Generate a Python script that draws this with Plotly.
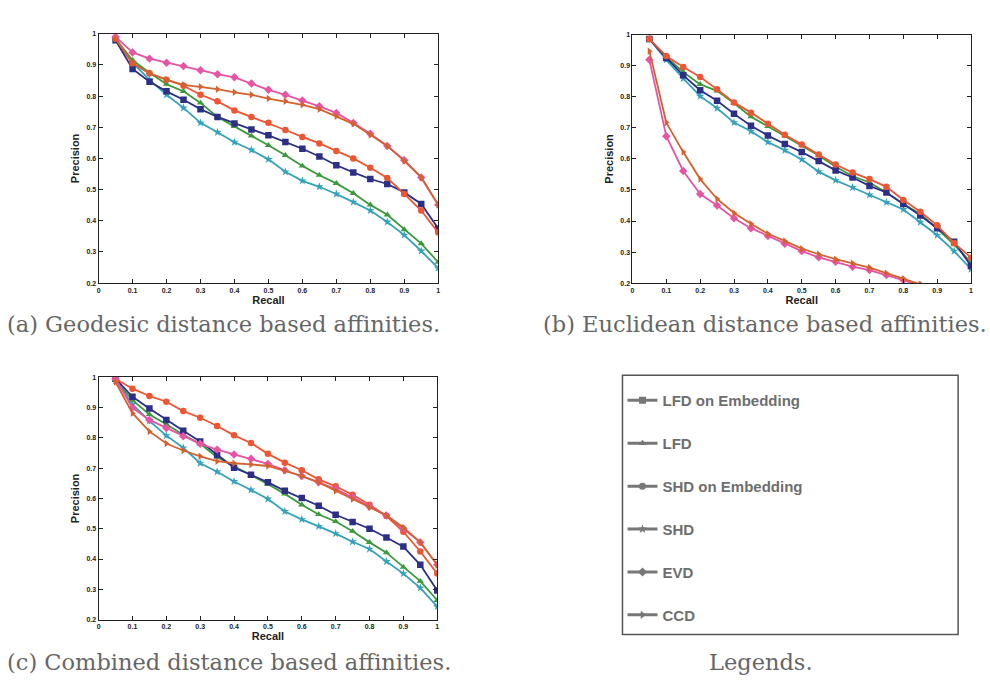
import plotly.graph_objects as go

W, H = 990, 688

recall = [0.05, 0.10, 0.15, 0.20, 0.25, 0.30, 0.35, 0.40, 0.45, 0.50,
          0.55, 0.60, 0.65, 0.70, 0.75, 0.80, 0.85, 0.90, 0.95, 1.00]

series_names = ["LFD on Embedding", "LFD", "SHD on Embedding", "SHD", "EVD", "CCD"]
series_colors = ["#2b2f86", "#3c9a3c", "#ee5533", "#35a2bb", "#e555a4", "#d4622e"]
series_symbols = ["square", "triangle-up", "circle", "star", "diamond", "triangle-right"]

# (a) Geodesic distance based affinities
geo_lfd_emb = [0.979, 0.887, 0.846, 0.815, 0.788, 0.758, 0.733, 0.712, 0.693, 0.674,
               0.653, 0.631, 0.606, 0.578, 0.555, 0.534, 0.518, 0.491, 0.454, 0.375]
geo_lfd = [0.984, 0.915, 0.875, 0.838, 0.815, 0.778, 0.733, 0.703, 0.672, 0.642,
           0.610, 0.576, 0.546, 0.520, 0.488, 0.451, 0.419, 0.372, 0.327, 0.267]
geo_shd_emb = [0.984, 0.905, 0.873, 0.852, 0.833, 0.804, 0.783, 0.754, 0.733, 0.714,
               0.691, 0.669, 0.648, 0.624, 0.600, 0.570, 0.537, 0.486, 0.433, 0.362]
geo_shd = [0.979, 0.907, 0.852, 0.804, 0.762, 0.714, 0.684, 0.652, 0.627, 0.597,
           0.557, 0.528, 0.509, 0.486, 0.460, 0.433, 0.396, 0.354, 0.303, 0.248]
geo_evd = [0.990, 0.940, 0.920, 0.907, 0.896, 0.883, 0.870, 0.860, 0.840, 0.820,
           0.804, 0.786, 0.767, 0.746, 0.714, 0.679, 0.640, 0.594, 0.539, 0.451]
geo_ccd = [0.984, 0.905, 0.873, 0.852, 0.836, 0.830, 0.822, 0.812, 0.804, 0.792,
           0.783, 0.772, 0.758, 0.735, 0.711, 0.676, 0.640, 0.592, 0.539, 0.451]

# (b) Euclidean distance based affinities
euc_lfd_emb = [0.986, 0.925, 0.869, 0.821, 0.787, 0.745, 0.707, 0.675, 0.648, 0.622,
               0.593, 0.563, 0.540, 0.513, 0.492, 0.455, 0.418, 0.377, 0.333, 0.255]
euc_lfd = [0.986, 0.928, 0.880, 0.840, 0.819, 0.779, 0.736, 0.705, 0.673, 0.643,
           0.611, 0.575, 0.545, 0.524, 0.492, 0.455, 0.423, 0.375, 0.324, 0.267]
euc_shd_emb = [0.986, 0.931, 0.896, 0.864, 0.824, 0.782, 0.749, 0.713, 0.678, 0.646,
               0.614, 0.582, 0.556, 0.535, 0.510, 0.468, 0.430, 0.386, 0.329, 0.282]
euc_shd = [0.986, 0.919, 0.859, 0.802, 0.763, 0.717, 0.689, 0.654, 0.628, 0.598,
           0.559, 0.531, 0.508, 0.484, 0.460, 0.437, 0.396, 0.354, 0.303, 0.245]
euc_evd = [0.919, 0.673, 0.561, 0.487, 0.450, 0.409, 0.377, 0.352, 0.327, 0.303,
           0.283, 0.269, 0.253, 0.242, 0.226, 0.210, 0.193]
euc_ccd = [0.947, 0.717, 0.622, 0.535, 0.471, 0.426, 0.391, 0.359, 0.336, 0.311,
           0.293, 0.277, 0.264, 0.250, 0.232, 0.214, 0.196]

# (c) Combined distance based affinities
com_lfd_emb = [0.995, 0.935, 0.897, 0.859, 0.823, 0.788, 0.743, 0.701, 0.678, 0.653,
               0.625, 0.601, 0.576, 0.546, 0.522, 0.500, 0.471, 0.441, 0.381, 0.296]
com_lfd = [0.989, 0.924, 0.877, 0.845, 0.810, 0.780, 0.736, 0.707, 0.678, 0.647,
           0.615, 0.579, 0.547, 0.524, 0.492, 0.455, 0.421, 0.373, 0.327, 0.264]
com_shd_emb = [0.995, 0.962, 0.938, 0.919, 0.888, 0.866, 0.839, 0.808, 0.783, 0.747,
               0.718, 0.693, 0.663, 0.640, 0.612, 0.579, 0.542, 0.490, 0.425, 0.352]
com_shd = [0.989, 0.910, 0.856, 0.807, 0.767, 0.716, 0.688, 0.656, 0.628, 0.598,
           0.557, 0.531, 0.508, 0.484, 0.457, 0.433, 0.392, 0.352, 0.305, 0.243]
com_evd = [0.995, 0.899, 0.859, 0.832, 0.805, 0.780, 0.761, 0.745, 0.731, 0.714,
           0.693, 0.674, 0.653, 0.631, 0.604, 0.573, 0.544, 0.500, 0.455, 0.381]
com_ccd = [0.984, 0.881, 0.821, 0.781, 0.758, 0.739, 0.723, 0.716, 0.712, 0.707,
           0.691, 0.674, 0.653, 0.625, 0.598, 0.571, 0.544, 0.504, 0.455, 0.381]

panels = [
    ("x", "y", [geo_lfd_emb, geo_lfd, geo_shd_emb, geo_shd, geo_evd, geo_ccd]),
    ("x2", "y2", [euc_lfd_emb, euc_lfd, euc_shd_emb, euc_shd, euc_evd, euc_ccd]),
    ("x3", "y3", [com_lfd_emb, com_lfd, com_shd_emb, com_shd, com_evd, com_ccd]),
]
# drawing order (back to front) roughly as in the scan
draw_order = [3, 1, 0, 2, 4, 5]

x_ticks = [0, 0.1, 0.2, 0.3, 0.4, 0.5, 0.6, 0.7, 0.8, 0.9, 1.0]
x_ticktext = ["0", "0.1", "0.2", "0.3", "0.4", "0.5", "0.6", "0.7", "0.8", "0.9", "1"]
y_ticks = [0.2, 0.3, 0.4, 0.5, 0.6, 0.7, 0.8, 0.9, 1.0]
y_ticktext = ["0.2", "0.3", "0.4", "0.5", "0.6", "0.7", "0.8", "0.9", "1"]

captions = ["(a) Geodesic distance based affinities.",
            "(b) Euclidean distance based affinities.",
            "(c) Combined distance based affinities.",
            "Legends."]

fig = go.Figure()

for xa, ya, data in panels:
    for i in draw_order:
        vals = data[i]
        fig.add_trace(go.Scatter(
            x=recall[:len(vals)], y=vals, xaxis=xa, yaxis=ya,
            mode="lines+markers",
            line=dict(color=series_colors[i], width=1.8),
            marker=dict(symbol=series_symbols[i], size=6.5, color=series_colors[i],
                        line=dict(width=0)),
            showlegend=False, name=series_names[i]))

# legend entries (grey, as printed)
for i, name in enumerate(series_names):
    fig.add_trace(go.Scatter(
        x=[None], y=[None], xaxis="x", yaxis="y", mode="lines+markers",
        name=name, legendgroup=name,
        line=dict(color="#777777", width=3),
        marker=dict(symbol=series_symbols[i], size=7, color="#777777"),
        showlegend=True))

def px_dom_x(a, b):
    return [a / W, b / W]

def px_dom_y(top, bottom):
    return [1 - bottom / H, 1 - top / H]

axis_common = dict(
    showline=True, linecolor="#222222", linewidth=1, mirror="ticks",
    ticks="inside", ticklen=4, tickcolor="#222222", showgrid=False, zeroline=False,
    tickfont=dict(family="Liberation Sans", size=7, color="#222222", weight="bold"),
)
title_font = dict(family="Liberation Sans", size=11, color="#222222", weight="bold")

domains = [
    (px_dom_x(97, 438), px_dom_y(30, 282)),
    (px_dom_x(633, 973), px_dom_y(31, 282)),
    (px_dom_x(97, 437), px_dom_y(377, 622)),
]

layout = dict(
    width=W, height=H, margin=dict(l=0, r=0, t=0, b=0),
    paper_bgcolor="white", plot_bgcolor="white",
    showlegend=True,
    legend=dict(x=623 / W, y=1 - 384 / H, xanchor="left", yanchor="top",
                bgcolor="rgba(0,0,0,0)", borderwidth=0,
                font=dict(family="Liberation Sans", size=15, color="#6e6e6e",
                          weight="bold"),
                tracegroupgap=20.4, itemwidth=30),
)
for k, (dx, dy) in enumerate(domains):
    sfx = "" if k == 0 else str(k + 1)
    layout["xaxis" + sfx] = dict(axis_common, domain=dx, range=[0, 1],
                                 tickvals=x_ticks, ticktext=x_ticktext,
                                 anchor="y" + sfx,
                                 title=dict(text="Recall", font=title_font, standoff=2))
    layout["yaxis" + sfx] = dict(axis_common, domain=dy, range=[0.2, 1],
                                 tickvals=y_ticks, ticktext=y_ticktext,
                                 anchor="x" + sfx,
                                 title=dict(text="Precision", font=title_font, standoff=4))

fig.update_layout(**layout)

cap_font = dict(family="DejaVu Serif", size=22.5, color="#666666")
cap_pos = [(3, 323, "left"), (541, 323, "left"), (3, 665, "left"), (762, 665, "center")]
for text, (cx, cy, anc) in zip(captions, cap_pos):
    fig.add_annotation(text=text, xref="paper", yref="paper", x=cx / W, y=1 - cy / H,
                       xanchor=anc, yanchor="middle", showarrow=False, font=cap_font)

fig.add_shape(type="rect", xref="paper", yref="paper",
              x0=623 / W, x1=960 / W, y0=1 - 637 / H, y1=1 - 375 / H,
              line=dict(color="#555555", width=1.5))

fig.write_html("out.html")
